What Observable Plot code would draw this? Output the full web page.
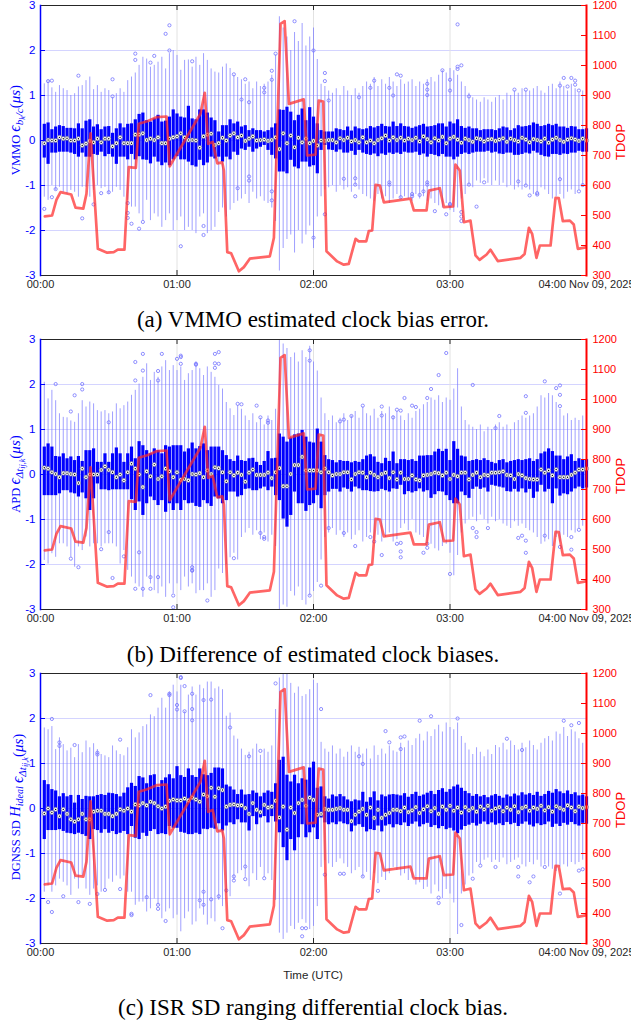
<!DOCTYPE html>
<html><head><meta charset="utf-8">
<script src="https://cdn.jsdelivr.net/npm/d3@7"></script>
<script src="https://cdn.jsdelivr.net/npm/@observablehq/plot@0.6"></script>
<style>
body{margin:0;background:#fff;width:631px;height:1026px;overflow:hidden;position:relative;font-family:"Liberation Sans",Arial,sans-serif}
.panel{position:absolute;left:0;width:631px}
.panel svg{position:absolute;left:0;top:0}
.cap{position:absolute;left:0;width:626px;text-align:center;font-family:"Liberation Serif","Times New Roman",serif;font-size:23px;line-height:26px;color:#000;white-space:nowrap}
</style></head><body>
<div id="p0" class="panel" style="top:0px;height:300px"></div>
<div class="cap" style="top:307px">(a) VMMO estimated clock bias error.</div>
<div id="p1" class="panel" style="top:334px;height:300px"></div>
<div class="cap" style="top:642px">(b) Difference of estimated clock biases.</div>
<div id="p2" class="panel" style="top:668px;height:330px"></div>
<div class="cap" style="top:995px">(c) ISR SD ranging differential clock bias.</div>
<script>
// ---------- axes / ticks ----------
const xTickMin = [0, 60, 120, 180, 240];
const xTickLabels = ["00:00", "01:00", "02:00", "03:00", "04:00 Nov 09, 2025"];
const xGridMin = [60, 120, 180];
const yTicks = [-3, -2, -1, 0, 1, 2, 3];
const yGrid = [-2, -1, 0, 1, 2];
const tdopTicks = [300, 400, 500, 600, 700, 800, 900, 1000, 1100, 1200];

// ---------- TDOP (right axis), minutes after 00:00 ----------
const tdopMin = [1.9,5.1,7.0,8.8,13.5,15.4,18.8,20.2,22.0,25.2,29.3,32.2,34.0,36.9,38.8,41.9,43.2,46.9,51.3,55.4,
56.8,70.3,72.2,73.7,75.7,77.7,79.9,80.6,82.1,83.8,87.2,89.4,92.0,100.8,102.6,105.5,107.3,109.2,115.7,117.2,
120.9,122.3,124.3,125.7,130.4,133.3,135.5,138.5,139.9,143.2,144.3,145.8,147.3,149.2,150.9,162.6,164.1,169.7,170.7,175.5,
177.3,181.4,182.4,184.3,186.1,187.8,189.0,191.2,193.0,196.1,197.8,201.0,211.0,212.8,214.7,216.1,218.0,219.5,224.2,226.4,
227.8,229.6,232.7,234.4,236.2,239.6];
const tdopVal = [497,500,552,578,570,526,523,572,774,389,376,378,386,386,661,659,806,814,828,830,
664,839,909,739,745,674,677,650,378,374,314,328,356,364,426,1139,1148,872,887,700,
703,883,880,381,347,336,339,422,414,414,448,450,602,600,544,556,517,517,583,591,
528,530,670,650,478,481,483,367,352,370,386,348,359,372,459,439,359,400,400,559,
558,481,483,470,389,394];

// ---------- box plots: one box every 100 s (144 boxes) ----------
const boxIndex = d3.range(1, 145);

// Panel (a) VMMO
const A_q3 = [0.36,0.39,0.24,0.30,0.33,0.31,0.27,0.27,0.26,0.37,0.26,0.43,
0.46,0.30,0.35,0.24,0.30,0.31,0.16,0.26,0.37,0.28,0.36,0.37,
0.46,0.58,0.61,0.44,0.41,0.48,0.56,0.41,0.43,0.52,0.68,0.59,
0.52,0.50,0.76,0.48,0.46,0.68,0.68,0.61,0.50,0.44,0.19,0.33,
0.33,0.46,0.37,0.41,0.30,0.33,0.22,0.26,0.22,0.22,0.19,0.22,
0.28,0.37,0.68,0.67,0.74,0.63,0.44,0.56,0.70,0.44,0.73,0.52,
0.37,0.22,0.19,0.19,0.19,0.26,0.24,0.22,0.30,0.21,0.30,0.26,
0.24,0.26,0.31,0.28,0.31,0.36,0.31,0.30,0.41,0.31,0.37,0.31,
0.30,0.27,0.30,0.33,0.36,0.30,0.31,0.33,0.37,0.37,0.30,0.41,
0.37,0.46,0.31,0.27,0.30,0.26,0.26,0.22,0.24,0.24,0.24,0.22,
0.26,0.30,0.28,0.22,0.26,0.33,0.30,0.31,0.33,0.39,0.36,0.31,
0.33,0.36,0.33,0.36,0.30,0.30,0.27,0.31,0.30,0.24,0.24,0.26];
const A_q1 = [-0.39,-0.53,-0.28,-0.28,-0.26,-0.26,-0.26,-0.28,-0.31,-0.37,-0.28,-0.37,
-0.37,-0.31,-0.33,-0.26,-0.36,-0.31,-0.37,-0.53,-0.37,-0.37,-0.43,-0.31,
-0.43,-0.36,-0.43,-0.44,-0.52,-0.37,-0.48,-0.56,-0.50,-0.56,-0.43,-0.36,
-0.43,-0.43,-0.48,-0.56,-0.59,-0.44,-0.56,-0.50,-0.37,-0.41,-0.37,-0.48,
-0.37,-0.43,-0.26,-0.33,-0.19,-0.22,-0.15,-0.26,-0.19,-0.15,-0.11,-0.22,
-0.33,-0.41,-0.70,-0.70,-0.74,-0.44,-0.59,-0.63,-0.48,-0.48,-0.59,-0.56,
-0.74,-0.22,-0.11,-0.21,-0.22,-0.26,-0.21,-0.28,-0.28,-0.24,-0.33,-0.22,
-0.28,-0.31,-0.33,-0.30,-0.36,-0.30,-0.33,-0.28,-0.31,-0.28,-0.31,-0.26,
-0.28,-0.28,-0.26,-0.33,-0.30,-0.37,-0.31,-0.33,-0.36,-0.31,-0.37,-0.37,
-0.43,-0.37,-0.31,-0.28,-0.31,-0.28,-0.26,-0.26,-0.26,-0.24,-0.28,-0.26,
-0.30,-0.31,-0.28,-0.28,-0.33,-0.33,-0.31,-0.28,-0.30,-0.24,-0.28,-0.33,
-0.36,-0.37,-0.31,-0.31,-0.33,-0.30,-0.31,-0.28,-0.28,-0.24,-0.26,-0.26];
const A_med = [-0.06,0.01,0,0,0.07,0.04,0.05,0,0,0.04,-0.11,-0.07,
-0.01,-0.04,0.04,-0.04,0.04,0.04,-0.13,-0.06,0.07,-0.06,-0.06,-0.06,
0.13,0.13,0.16,0.01,0.04,0.01,0.07,-0.06,-0.06,0.04,0.07,0.09,
0.16,0.07,0.01,0.01,0,-0.16,0.09,0.13,0.15,-0.10,-0.06,0.06,
0,0.11,0.16,0.07,0.11,-0.01,0.04,0.09,0,0.01,0.02,-0.01,
0.01,0.07,-0.19,0.16,-0.06,0.11,-0.15,0.06,-0.04,0.04,-0.06,-0.01,
-0.11,0,-0.01,0.01,0.01,-0.04,0.05,0.01,0.06,-0.02,0.01,-0.04,
0.07,-0.04,0,-0.06,0.01,0.05,0.11,0,0.07,0.01,0.06,0,
0.04,0.01,0.06,-0.02,0.09,0.03,-0.04,0.05,0,0.08,-0.06,0.04,
0.08,0.02,-0.05,0.04,0.01,-0.03,0.05,0.03,-0.02,0.02,0.03,-0.01,
0.02,0.05,-0.03,0.04,0.01,-0.02,0.06,0.02,-0.04,0.03,0.01,-0.02,
0.04,-0.05,0.02,0.06,0.01,-0.03,0.02,0.05,0.02,-0.01,0.04,0];
const A_hi = [1.26,1.33,1.17,1.07,1.22,1.15,1.11,1.0,1.04,1.19,1.22,1.33,
1.41,1.13,1.22,1.07,1.15,1.11,0.96,1.04,1.15,1.07,1.33,1.41,
1.5,1.67,1.85,1.81,1.63,1.67,1.74,1.85,1.59,1.93,2.0,1.89,
1.56,1.78,1.79,1.63,1.85,1.67,1.93,1.78,1.59,1.52,1.5,1.63,
1.7,1.6,1.45,1.4,1.35,1.25,1.3,1.15,1.3,1.2,1.25,1.3,
1.45,1.9,2.75,2.5,2.3,2.0,2.4,2.2,2.6,2.1,2.3,2.5,
1.8,1.25,1.2,1.1,1.05,1.15,1.0,1.2,1.1,1.0,1.15,1.05,
1.2,1.3,1.25,1.4,1.2,1.35,1.25,1.4,1.3,1.2,1.35,1.25,
1.3,1.35,1.2,1.3,1.25,1.35,1.4,1.3,1.45,1.55,1.5,1.6,
1.55,1.45,1.3,1.2,1.05,0.95,0.9,0.85,0.95,0.9,0.85,0.95,
1.0,0.9,1.05,1.0,1.1,1.05,1.15,1.1,1.1,1.15,1.2,1.1,
1.05,1.2,1.25,1.15,1.3,1.2,1.1,1.25,1.15,1.05,1.1,1.0];
const A_lo = [-1.26,-1.33,-1.0,-1.11,-1.04,-1.15,-1.19,-1.11,-1.15,-1.26,-1.04,-1.04,
-1.26,-1.11,-1.0,-1.07,-1.04,-1.19,-1.15,-1.04,-1.11,-1.26,-1.33,-1.48,
-1.48,-1.63,-1.78,-1.33,-1.78,-1.63,-1.7,-1.93,-1.78,-1.63,-2.0,-1.78,
-1.7,-2.0,-1.93,-2.0,-2.07,-1.7,-1.63,-2.07,-2.0,-1.93,-1.6,-1.5,
-1.7,-1.55,-1.4,-1.35,-1.3,-1.2,-1.4,-1.15,-1.3,-1.25,-1.35,-1.4,
-1.5,-1.8,-2.9,-2.4,-2.2,-2.1,-2.5,-2.0,-2.3,-2.1,-1.9,-2.4,
-1.7,-1.25,-1.1,-1.05,-1.0,-1.15,-1.0,-1.1,-1.05,-1.15,-1.0,-1.1,
-1.2,-1.25,-1.3,-1.35,-1.2,-1.3,-1.25,-1.4,-1.3,-1.2,-1.3,-1.25,
-1.3,-1.35,-1.2,-1.3,-1.25,-1.35,-1.3,-1.4,-1.45,-1.5,-1.4,-1.55,
-1.6,-1.5,-1.3,-1.2,-1.0,-1.05,-0.9,-0.95,-0.85,-0.95,-1.0,-0.9,
-1.0,-0.95,-1.05,-1.0,-1.1,-1.05,-1.1,-1.0,-1.1,-1.2,-1.15,-1.05,
-1.1,-1.2,-1.3,-1.25,-1.2,-1.3,-1.15,-1.1,-1.2,-1.1,-1.0,-1.05];
const A_outliers = [[1,-1.52],[2,1.32],[3,1.33],[3,-1.26],[4,-1.08],[10,1.44],[11,-1.73],[14,-1.42],[16,-1.17],[18,-1.15],
[19,1.36],[19,0.98],[23,-1.39],[23,-1.61],[23,-1.72],[24,-1.85],[25,1.93],[25,1.79],[26,-1.96],[27,-1.81],
[29,1.73],[30,1.88],[33,2.37],[34,2.56],[34,2.0],[37,-2.35],[40,1.76],[43,-1.9],[43,-2.1],[51,1.47],
[53,0.91],[54,1.36],[55,0.85],[55,-0.89],[55,-0.8],[52,-1.06],[59,1.07],[59,1.17],[61,1.55],[61,1.35],
[61,-1.13],[61,-1.33],[62,1.93],[67,2.65],[72,2.0],[75,1.5],[75,1.32],[75,-1.64],[72,-2.16],[76,0.89],
[80,-0.85],[83,-0.84],[83,-0.98],[83,-1.24],[84,0.96],[87,1.17],[88,1.33],[92,1.17],[93,1.0],[92,-0.93],
[92,-0.98],[94,1.47],[95,1.44],[95,-1.26],[98,-1.19],[98,-1.24],[100,-1.21],[101,-1.13],[102,1.26],[102,1.13],
[102,1.01],[102,-0.93],[102,-0.98],[104,-1.57],[106,1.56],[107,-1.64],[108,1.11],[108,1.35],[108,-1.44],[108,-1.41],
[110,2.58],[110,1.64],[110,1.59],[111,1.67],[111,-1.59],[111,-1.79],[111,-1.69],[113,0.98],[113,-0.98],[115,-1.47],
[117,-0.93],[125,1.13],[126,-0.91],[128,1.13],[128,-1.0],[129,-1.22],[131,-1.17],[131,-1.2],[137,-0.86],[137,1.22],
[138,1.39],[139,1.2],[140,1.39],[141,1.33],[141,1.24],[142,1.11],[142,-1.13],[143,-0.99]];

// Panel (b) APD
const B_q3 = [0.61,0.68,0.61,0.40,0.39,0.46,0.35,0.39,0.31,0.40,0.29,0.53,
0.53,0.57,0.27,0.27,0.46,0.27,0.46,0.59,0.46,0.27,0.46,0.61,
0.35,0.73,0.64,0.53,0.46,0.57,0.53,0.46,0.64,0.61,0.64,0.64,
0.64,0.50,0.57,0.70,0.57,0.62,0.68,0.53,0.61,0.61,0.61,0.53,
0.42,0.33,0.29,0.41,0.31,0.29,0.35,0.36,0.27,0.20,0.29,0.51,
0.35,0.36,0.90,0.83,0.72,0.81,0.88,0.90,0.98,0.83,0.72,0.70,
1.01,0.72,0.42,0.33,0.31,0.26,0.31,0.29,0.29,0.26,0.29,0.27,
0.33,0.41,0.44,0.39,0.27,0.24,0.36,0.29,0.50,0.24,0.33,0.33,
0.31,0.33,0.29,0.41,0.41,0.42,0.42,0.50,0.56,0.51,0.56,0.31,
0.73,0.56,0.41,0.39,0.29,0.31,0.33,0.31,0.35,0.31,0.27,0.24,
0.31,0.33,0.26,0.29,0.31,0.33,0.31,0.33,0.35,0.29,0.33,0.46,
0.50,0.57,0.51,0.41,0.41,0.33,0.39,0.44,0.29,0.35,0.33,0.33];
const B_q1 = [-0.47,-0.47,-0.47,-0.47,-0.43,-0.36,-0.36,-0.41,-0.43,-0.50,-0.41,-0.54,
-0.80,-0.54,-0.21,-0.34,-0.34,-0.36,-0.34,-0.34,-0.34,-0.34,-0.34,-0.56,
-0.80,-0.61,-0.91,-0.65,-0.50,-0.58,-0.69,-0.58,-0.84,-0.65,-0.80,-0.65,
-0.80,-0.58,-0.65,-0.64,-0.71,-0.73,-0.58,-0.65,-0.71,-0.50,-0.54,-0.65,
-0.58,-0.39,-0.39,-0.50,-0.47,-0.33,-0.32,-0.36,-0.36,-0.32,-0.28,-0.36,
-0.28,-0.47,-0.58,-0.99,-1.17,-0.91,-0.39,-0.65,-0.65,-0.82,-0.69,-0.65,
-0.47,-0.76,-0.47,-0.39,-0.33,-0.33,-0.39,-0.30,-0.33,-0.39,-0.28,-0.32,
-0.36,-0.36,-0.38,-0.39,-0.38,-0.33,-0.36,-0.39,-0.32,-0.33,-0.24,-0.45,
-0.38,-0.41,-0.38,-0.32,-0.39,-0.36,-0.53,-0.45,-0.38,-0.39,-0.47,-0.58,
-0.65,-0.65,-0.39,-0.47,-0.53,-0.33,-0.28,-0.33,-0.30,-0.39,-0.24,-0.26,
-0.28,-0.30,-0.38,-0.39,-0.33,-0.39,-0.32,-0.41,-0.33,-0.53,-0.39,-0.24,
-0.39,-0.33,-0.65,-0.32,-0.48,-0.43,-0.45,-0.39,-0.32,-0.28,-0.32,-0.30];
const B_med = [0.15,0.13,0.05,0.01,-0.06,0.03,0.03,0.01,0,-0.19,0.13,-0.06,
0,0,0,0.1,0.18,0.1,0.05,-0.06,0,-0.13,0.05,0.24,
0.13,0,-0.28,0.07,-0.04,0.22,-0.1,-0.04,0.13,0.07,-0.06,0.05,
-0.12,-0.1,-0.13,0.01,0,0.03,-0.06,0.09,0.01,0.16,0.14,0.05,
-0.15,0.05,-0.02,0.04,-0.01,-0.16,0.04,0.11,-0.01,-0.01,-0.01,0.04,
-0.08,0.05,0.14,-0.26,-0.26,0.01,0.21,0.21,0.39,0.09,0.09,0.09,
0.09,0.05,0.13,0.05,-0.02,0.01,0.01,0.05,0.05,-0.11,0.01,0.05,
0.04,-0.06,0.04,-0.01,-0.06,0.01,0.04,-0.08,0.05,-0.11,0.04,-0.1,
-0.1,-0.02,-0.11,-0.13,-0.02,-0.01,0.01,0.04,0.03,-0.02,0.04,-0.1,
-0.01,-0.04,0.04,0.04,-0.11,-0.01,0.04,-0.06,-0.01,-0.02,0.04,0.04,
0.05,0.07,-0.01,-0.02,-0.1,0.01,-0.02,-0.08,-0.1,-0.11,-0.11,0.11,
0.04,0.09,-0.02,0.11,-0.06,-0.06,-0.06,-0.01,0.04,0.11,0.11,0.13];
const B_hi = [2.05,1.68,1.87,1.64,1.35,1.27,1.26,1.19,1.16,1.35,1.64,1.5,
1.61,1.57,1.42,1.39,1.42,1.35,1.39,1.57,1.46,1.53,1.61,1.76,
1.87,2.01,2.16,2.46,2.09,2.27,2.16,2.39,2.53,2.31,2.42,2.31,
2.39,2.09,2.24,2.31,2.5,2.35,2.2,2.39,2.27,2.16,1.98,1.9,
1.6,1.46,1.31,1.53,1.45,1.3,1.2,1.35,1.15,1.25,1.1,1.3,
1.2,1.45,3.0,2.9,2.8,2.6,2.7,2.5,2.75,2.6,2.85,2.5,
2.3,1.7,1.35,1.2,1.3,1.15,1.25,1.35,1.2,1.3,1.4,1.25,
1.5,1.35,1.3,1.45,1.25,1.4,1.35,1.5,1.3,1.4,1.3,1.2,
1.35,1.25,1.4,1.45,1.55,1.6,1.7,1.65,1.75,1.6,1.7,1.65,
1.9,2.35,1.5,1.2,1.1,1.05,1.0,1.1,0.95,1.05,1.0,1.1,
1.15,1.05,1.1,1.0,1.15,1.2,1.3,1.25,1.3,1.35,1.5,1.75,
1.7,1.8,1.75,1.6,1.45,1.3,1.35,1.2,1.25,1.2,1.3,1.15];
const B_lo = [-1.91,-1.99,-1.76,-1.84,-1.54,-1.54,-1.61,-1.84,-2.06,-1.61,-1.69,-1.39,
-1.61,-1.54,-1.54,-1.61,-1.54,-1.54,-1.54,-1.61,-1.99,-1.69,-2.13,-2.28,
-2.43,-2.5,-2.73,-2.28,-2.43,-2.58,-2.65,-2.5,-2.73,-2.43,-2.65,-2.43,
-2.58,-2.28,-2.5,-2.43,-2.65,-2.58,-2.58,-2.43,-2.73,-2.58,-2.1,-2.2,
-2.0,-1.85,-1.75,-1.9,-1.4,-1.3,-1.2,-1.35,-1.25,-1.45,-1.3,-1.5,
-1.35,-1.6,-3.0,-2.9,-2.95,-2.6,-2.7,-2.5,-2.8,-2.9,-2.7,-2.6,
-2.4,-1.9,-1.4,-1.3,-1.2,-1.35,-1.25,-1.4,-1.3,-1.45,-1.35,-1.25,
-1.5,-1.4,-1.3,-1.45,-1.35,-1.5,-1.4,-1.3,-1.5,-1.45,-1.2,-1.1,
-1.25,-1.0,-1.3,-1.35,-1.4,-1.5,-1.55,-1.65,-1.7,-1.6,-1.55,-1.75,
-2.25,-1.8,-1.3,-1.1,-1.0,-0.95,-1.05,-0.9,-1.0,-1.1,-0.95,-1.05,
-1.0,-1.1,-1.15,-1.2,-1.05,-1.15,-1.1,-1.2,-1.25,-1.3,-1.4,-1.55,
-1.5,-1.45,-1.6,-1.4,-1.5,-1.35,-1.4,-1.25,-1.3,-1.2,-1.15,-1.1];
const B_outliers = [[4,2.01],[11,2.01],[11,1.89],[9,1.76],[8,1.4],[8,-1.87],[10,-2.06],[16,-1.66],[18,1.16],[18,-1.28],
[19,-2.3],[22,-1.82],[25,2.09],[25,2.5],[25,-2.54],[26,-1.73],[27,2.68],[27,2.31],[27,-2.54],[29,-2.28],
[29,-2.54],[31,2.3],[31,2.09],[32,2.68],[31,-2.28],[35,-2.69],[35,-2.95],[36,2.57],[37,2.64],[37,2.46],
[41,2.46],[40,-2.12],[40,-2.06],[44,-2.8],[46,2.68],[46,2.47],[47,2.72],[37,2.61],[41,2.44],[46,2.37],
[47,2.46],[52,1.57],[53,1.56],[57,1.53],[58,1.27],[60,1.2],[60,1.15],[58,-1.3],[59,-1.39],[59,-1.43],
[51,-1.86],[40,-2.14],[71,2.76],[71,2.53],[71,-2.69],[74,-2.47],[76,-1.19],[79,1.18],[80,1.22],[82,1.3],
[80,-1.3],[83,-1.59],[85,1.53],[87,-1.39],[88,-1.49],[90,-1.79],[90,1.51],[90,1.31],[93,1.27],[95,1.42],
[95,-1.84],[95,-1.52],[107,2.7],[105,2.21],[103,1.9],[102,1.7],[99,1.5],[98,1.53],[96,1.7],[94,1.44],
[94,-1.54],[95,-1.71],[101,-1.74],[102,-1.54],[102,-1.63],[108,-2.21],[114,1.99],[114,-1.19],[115,-1.28],[115,-1.39],
[118,-1.19],[120,1.03],[121,1.3],[126,-1.41],[127,-1.36],[128,-1.47],[128,1.74],[128,1.37],[128,-1.74],[133,2.07],
[133,-1.36],[136,1.92],[137,1.98],[137,1.77],[137,1.52],[137,-1.61],[140,-1.39],[140,-1.67],[142,-1.23]];

// Panel (c) DGNSS SD
const C_q3 = [0.62,0.53,0.42,0.39,0.26,0.33,0.26,0.29,0.12,0.29,0.20,0.27,
0.26,0.26,0.29,0.31,0.29,0.34,0.33,0.31,0.26,0.34,0.46,0.56,
0.49,0.71,0.68,0.55,0.73,0.75,0.47,0.62,0.68,0.75,0.66,0.93,
0.73,0.69,0.88,0.73,0.69,0.88,0.75,0.73,0.78,0.90,0.90,0.88,
0.52,0.48,0.41,0.31,0.41,0.30,0.31,0.39,0.34,0.26,0.34,0.39,
0.36,0.55,1.07,1.14,0.74,0.59,0.74,0.55,0.66,0.63,0.90,1.03,
0.45,0.48,0.26,0.21,0.30,0.26,0.31,0.26,0.19,0.15,0.19,0.17,
0.36,0.14,0.24,0.37,0.17,0.30,0.26,0.30,0.31,0.30,0.28,0.33,
0.25,0.31,0.36,0.27,0.30,0.34,0.38,0.31,0.40,0.44,0.36,0.42,
0.48,0.52,0.45,0.38,0.33,0.27,0.31,0.26,0.29,0.24,0.28,0.31,
0.27,0.23,0.30,0.26,0.32,0.28,0.35,0.30,0.33,0.29,0.36,0.27,
0.31,0.38,0.34,0.42,0.37,0.33,0.39,0.31,0.35,0.28,0.30,0.26];
const C_q1 = [-0.69,-0.49,-0.49,-0.49,-0.47,-0.51,-0.55,-0.56,-0.58,-0.55,-0.58,-0.62,
-0.69,-0.47,-0.49,-0.55,-0.47,-0.55,-0.51,-0.58,-0.55,-0.51,-0.58,-0.40,
-0.66,-0.69,-0.55,-0.62,-0.51,-0.47,-0.58,-0.56,-0.58,-0.40,-0.44,-0.44,
-0.53,-0.55,-0.58,-0.58,-0.55,-0.58,-0.46,-0.47,-0.44,-0.46,-0.34,-0.50,
-0.39,-0.32,-0.36,-0.25,-0.32,-0.32,-0.50,-0.18,-0.36,-0.21,-0.18,-0.32,
-0.18,-0.30,-0.54,-0.87,-1.16,-0.69,-0.94,-0.65,-0.36,-0.65,-0.54,-0.43,
-0.69,-0.21,-0.32,-0.36,-0.32,-0.36,-0.30,-0.34,-0.36,-0.52,-0.39,-0.36,
-0.42,-0.52,-0.47,-0.49,-0.39,-0.52,-0.39,-0.36,-0.43,-0.36,-0.38,-0.32,
-0.40,-0.35,-0.30,-0.41,-0.36,-0.33,-0.42,-0.38,-0.45,-0.40,-0.47,-0.44,
-0.50,-0.56,-0.48,-0.40,-0.37,-0.33,-0.39,-0.35,-0.30,-0.36,-0.32,-0.37,
-0.34,-0.38,-0.31,-0.36,-0.33,-0.40,-0.35,-0.30,-0.37,-0.41,-0.34,-0.38,
-0.36,-0.30,-0.42,-0.35,-0.40,-0.33,-0.37,-0.31,-0.36,-0.39,-0.33,-0.35];
const C_med = [-0.11,0,-0.09,-0.02,-0.17,-0.02,-0.12,-0.24,-0.29,-0.24,-0.12,-0.24,
-0.24,-0.07,-0.05,-0.05,-0.12,-0.12,-0.17,-0.12,-0.02,-0.05,0,-0.07,
0.09,0.07,0.12,0.07,0.15,0.12,0.05,0,0.04,0.17,0.2,0.18,
0.18,0.22,0.18,0.24,0.2,0.15,0.31,0.27,0.46,0.26,0.45,0.41,
0.04,0.08,0.09,0.07,0.07,0.01,-0.12,0.12,-0.03,-0.08,0.08,0.02,
0.04,0.17,-0.2,0.04,-0.47,0.02,-0.1,0.12,0.19,0.06,0.24,0.19,
-0.14,-0.12,-0.01,-0.03,-0.03,-0.01,0.01,-0.03,-0.03,-0.28,-0.14,-0.07,
-0.01,-0.14,0.02,-0.21,-0.03,-0.21,-0.14,-0.1,-0.03,-0.03,-0.06,0.02,
-0.08,-0.04,0.03,-0.1,-0.02,0.05,-0.06,0.01,-0.12,0.04,-0.03,0.06,
-0.05,0.02,-0.09,0.03,-0.04,0.01,-0.07,0.04,-0.02,0.06,-0.05,0,
0.03,-0.06,0.02,-0.03,0.05,-0.08,0.01,0.04,-0.05,0.02,-0.01,0.06,
-0.04,0.03,-0.07,0.05,0.01,-0.03,0.07,0.02,-0.06,0.04,0.01,0.03];
const C_hi = [1.79,1.75,1.82,1.31,1.57,1.42,1.28,1.34,1.13,1.42,1.24,1.5,
1.35,1.44,1.31,1.2,1.17,1.13,1.39,1.28,1.2,1.17,1.35,1.75,
1.57,1.68,1.82,1.86,2.08,2.04,2.23,2.45,2.23,2.59,2.74,2.59,
2.74,2.15,2.52,2.7,2.52,2.74,2.66,2.81,2.81,2.66,2.7,2.64,
2.05,2.12,1.61,1.54,1.32,1.18,1.25,1.32,1.43,1.18,1.32,1.25,
1.39,2.2,2.9,3.0,3.0,2.78,2.56,2.7,2.49,2.53,2.64,2.85,
2.78,1.47,1.32,1.25,1.39,1.21,1.32,1.14,1.25,1.39,1.25,1.36,
1.21,1.32,1.1,1.39,1.18,1.32,1.21,1.39,1.28,1.25,1.45,1.35,
1.5,1.4,1.55,1.65,1.5,1.7,1.6,1.75,1.85,1.7,1.9,1.8,
1.75,1.9,1.6,1.45,1.3,1.2,1.35,1.25,1.15,1.3,1.2,1.4,
1.35,1.45,1.3,1.5,1.4,1.3,1.45,1.35,1.5,1.4,1.3,1.45,
1.55,1.6,1.5,1.7,1.65,1.8,1.6,1.75,1.7,1.55,1.45,1.5];
const C_lo = [-1.86,-1.72,-1.86,-1.72,-1.57,-1.64,-1.72,-1.93,-1.57,-1.79,-1.5,-1.79,
-1.93,-1.79,-1.72,-1.86,-1.79,-1.57,-1.64,-1.5,-1.57,-1.5,-1.86,-1.86,
-2.15,-2.08,-2.08,-2.3,-2.23,-2.01,-2.15,-2.45,-2.3,-2.23,-2.45,-2.37,
-2.74,-2.45,-2.3,-2.59,-2.52,-2.23,-2.37,-2.59,-2.45,-2.52,-2.04,-2.18,
-1.89,-1.96,-1.6,-1.45,-1.38,-1.53,-1.74,-1.45,-1.6,-1.31,-1.53,-1.45,
-1.6,-2.04,-2.77,-2.91,-2.77,-2.62,-2.69,-2.55,-2.47,-2.55,-2.69,-2.62,
-2.18,-1.31,-1.16,-1.23,-1.31,-1.2,-1.12,-1.23,-1.31,-1.45,-1.38,-1.31,
-1.53,-1.42,-1.6,-1.45,-1.67,-1.53,-1.6,-1.45,-1.31,-1.38,-1.5,-1.45,
-1.6,-1.55,-1.7,-1.65,-1.8,-1.75,-1.9,-1.7,-1.85,-2.0,-1.8,-1.9,
-2.1,-2.8,-1.9,-1.7,-1.5,-1.45,-1.2,-1.25,-1.15,-1.1,-1.2,-1.15,
-1.2,-1.1,-1.25,-1.2,-1.15,-1.1,-1.25,-1.3,-1.2,-1.25,-1.15,-1.3,
-1.25,-1.3,-1.35,-1.4,-1.3,-1.25,-1.3,-1.2,-1.25,-1.2,-1.15,-1.1];
const C_outliers = [[2,-2.08],[3,1.99],[3,-2.3],[5,1.47],[5,1.39],[6,-1.95],[9,1.41],[10,-2.08],[13,-2.12],[15,1.24],
[15,1.2],[15,-1.9],[17,-1.81],[21,1.53],[21,-1.79],[24,-2.37],[24,-2.34],[28,-1.97],[29,2.52],[31,-2.23],
[31,-2.14],[33,-2.5],[34,2.55],[34,2.52],[36,2.3],[37,2.92],[37,2.9],[38,2.72],[40,2.55],[40,2.21],
[43,2.41],[43,-1.85],[43,-2.14],[45,-2.02],[36,2.2],[40,1.96],[38,2.16],[45,2.42],[50,1.8],[55,1.16],
[58,1.28],[62,2.78],[74,2.21],[42,-2.04],[47,-1.95],[49,-1.82],[51,-1.51],[51,-1.6],[54,-1.29],[54,-1.57],
[59,-1.55],[48,-2.66],[69,-2.66],[70,-2.66],[69,-2.84],[75,-1.47],[79,-1.45],[80,-1.45],[85,-1.51],[89,-1.83],
[91,1.72],[92,1.47],[95,1.58],[95,1.32],[84,1.16],[85,0.99],[116,-1.27],[120,-1.3],[126,-1.3],[126,-1.51],
[129,-1.64],[130,-1.51],[133,-1.3],[137,-1.89],[142,-1.38],[143,-1.35],[114,-1.56],[105,-1.98],[105,-2.1],[111,-2.59],
[123,1.55],[127,1.3],[138,1.95],[140,1.85],[142,1.9],[110,2.0],[96,1.6],[100,1.95],[103,2.05]];

// ---------- checks ----------
for (const [n, a] of Object.entries({A_q3,A_q1,A_med,A_hi,A_lo,B_q3,B_q1,B_med,B_hi,B_lo,C_q3,C_q1,C_med,C_hi,C_lo})) {
  if (a.length !== 144) throw new Error(n + " has " + a.length);
}
if (tdopMin.length !== tdopVal.length) throw new Error("tdop " + tdopMin.length + " vs " + tdopVal.length);

const minOf = i => i * 100 / 60;  // box index -> minutes after 00:00
const tdopRows = tdopMin.map((t, k) => ({t, v: tdopVal[k]}));

function drawPanel(id, P, opt) {
  const el = document.getElementById(id);
  const W = 631, H = opt.height, mt = 5, mb = H - 275, ml = 40, mr = 45;
  const plotW = W - ml - mr, plotH = H - mt - mb;
  const rows = boxIndex.map((i, k) => ({t: minOf(i), lo: P.lo[k], q1: P.q1[k], med: P.med[k], q3: P.q3[k], hi: P.hi[k]}));
  const outs = P.out.map(([i, v]) => ({t: minOf(i), v}));
  const style = {background: "transparent", fontFamily: "'Liberation Sans', Arial, sans-serif", fontSize: "11px", overflow: "visible"};
  const main = Plot.plot({
    width: W, height: H, marginLeft: ml, marginRight: mr, marginTop: mt, marginBottom: mb,
    style,
    x: {domain: [0, 240]},
    y: {domain: [-3, 3]},
    marks: [
      Plot.ruleY(yGrid, {stroke: "#d4d4ff", strokeWidth: 1}),
      Plot.ruleX(xGridMin, {stroke: "#e2e2e2", strokeWidth: 1}),
      Plot.ruleX(rows, {x: "t", y1: "lo", y2: "hi", stroke: "#7878ff", strokeOpacity: 0.7, strokeWidth: 1}),
      Plot.ruleX(rows, {x: "t", y1: "q1", y2: "q3", stroke: "#0000ff", strokeWidth: 3.2}),
      Plot.dot(outs, {x: "t", y: "v", r: 1.6, stroke: "#7474ff", strokeWidth: 0.8, fill: "none"}),
      Plot.dot(rows, {x: "t", y: "med", r: 2.1, fill: "white", stroke: "#6a6a8a", strokeWidth: 0.6}),
      Plot.dot(rows, {x: "t", y: "med", r: 0.7, fill: "#000", stroke: null}),
      Plot.tickY(yTicks, {stroke: "#0000ff", insetRight: plotW - 5}),
      Plot.tickX(xTickMin, {stroke: "#262626", insetTop: plotH - 5}),
      Plot.tickX(xTickMin, {stroke: "#262626", insetBottom: plotH - 5}),
      Plot.frame({anchor: "top", stroke: "#262626", strokeWidth: 1}),
      Plot.frame({anchor: "bottom", stroke: "#262626", strokeWidth: 1}),
      Plot.frame({anchor: "left", stroke: "#0000ff", strokeWidth: 1.5}),
      Plot.axisY({anchor: "left", ticks: yTicks, tickSize: 0, tickPadding: 5, color: "#0000ff", fontSize: 11.5, label: null, tickFormat: d => String(d)}),
      Plot.axisX({anchor: "bottom", ticks: xTickMin, tickSize: 0, tickPadding: 5, color: "#262626", fontSize: 11, label: null, tickFormat: d => xTickLabels[xTickMin.indexOf(d)]})
    ]
  });
  const over = Plot.plot({
    width: W, height: H, marginLeft: ml, marginRight: mr, marginTop: mt, marginBottom: mb,
    style,
    x: {domain: [0, 240], axis: null},
    y: {domain: [300, 1200]},
    marks: [
      Plot.line(tdopRows, {x: "t", y: "v", stroke: "#ff2a2a", strokeOpacity: 0.72, strokeWidth: 2.7, strokeLinejoin: "round"}),
      Plot.tickY(tdopTicks, {stroke: "#ff0000", insetLeft: plotW - 5}),
      Plot.frame({anchor: "right", stroke: "#ff0000", strokeWidth: 2}),
      Plot.axisY({anchor: "right", ticks: tdopTicks, tickSize: 0, tickPadding: 6, color: "#ff0000", fontSize: 11, label: null, tickFormat: d => String(d)})
    ]
  });
  el.appendChild(main);
  el.appendChild(over);
  // left axis label (math text)
  const t = d3.select(main).append("text")
    .attr("transform", `translate(20,${opt.labelY}) rotate(-90)`)
    .attr("text-anchor", "middle").attr("fill", "#0000ff")
    .attr("font-family", "'Liberation Serif', 'Times New Roman', serif").attr("font-size", 12.5);
  for (const p of opt.label) {
    const s = t.append("tspan").text(p.t);
    if (p.it) s.attr("font-style", "italic");
    if (p.fs) s.attr("font-size", p.fs);
    if (p.dy) s.attr("dy", p.dy);
  }
  d3.select(over).append("text")
    .attr("transform", `translate(625,${mt + plotH / 2 + 2}) rotate(-90)`)
    .attr("text-anchor", "middle").attr("fill", "#ff0000")
    .attr("font-family", "'Liberation Sans', Arial, sans-serif").attr("font-size", 13).text("TDOP");
  if (opt.xlabel) {
    d3.select(main).append("text").attr("x", ml + plotW / 2).attr("y", 311)
      .attr("text-anchor", "middle").attr("fill", "#262626")
      .attr("font-family", "'Liberation Sans', Arial, sans-serif").attr("font-size", 11.5).text(opt.xlabel);
  }
}

const epsDt = [{t: " "}, {t: "ϵ", it: 1, fs: 16}, {t: "Δt", it: 1, fs: 11, dy: 3}, {t: "ij,k", it: 1, fs: 8, dy: 2}, {t: "(", fs: 15, dy: -5}, {t: "μs", it: 1, fs: 15}, {t: ")", fs: 15}];
drawPanel("p0", {q1: A_q1, q3: A_q3, med: A_med, lo: A_lo, hi: A_hi, out: A_outliers},
  {height: 300, labelY: 130, label: [{t: "VMMO "}, {t: "ϵ", it: 1, fs: 16}, {t: "b", it: 1, fs: 11, dy: 3}, {t: "k", it: 1, fs: 8, dy: 2}, {t: "/c", it: 1, fs: 11, dy: -2}, {t: "(", fs: 15, dy: -3}, {t: "μs", it: 1, fs: 15}, {t: ")", fs: 15}]});
drawPanel("p1", {q1: B_q1, q3: B_q3, med: B_med, lo: B_lo, hi: B_hi, out: B_outliers},
  {height: 300, labelY: 140, label: [{t: "APD"}].concat(epsDt)});
drawPanel("p2", {q1: C_q1, q3: C_q3, med: C_med, lo: C_lo, hi: C_hi, out: C_outliers},
  {height: 330, labelY: 139, xlabel: "Time (UTC)", label: [{t: "DGNSS SD "}, {t: "H", it: 1, fs: 15}, {t: "ideal", it: 1, fs: 10, dy: 3}, {t: "", dy: -3}].concat(epsDt)});
</script>
</body></html>
